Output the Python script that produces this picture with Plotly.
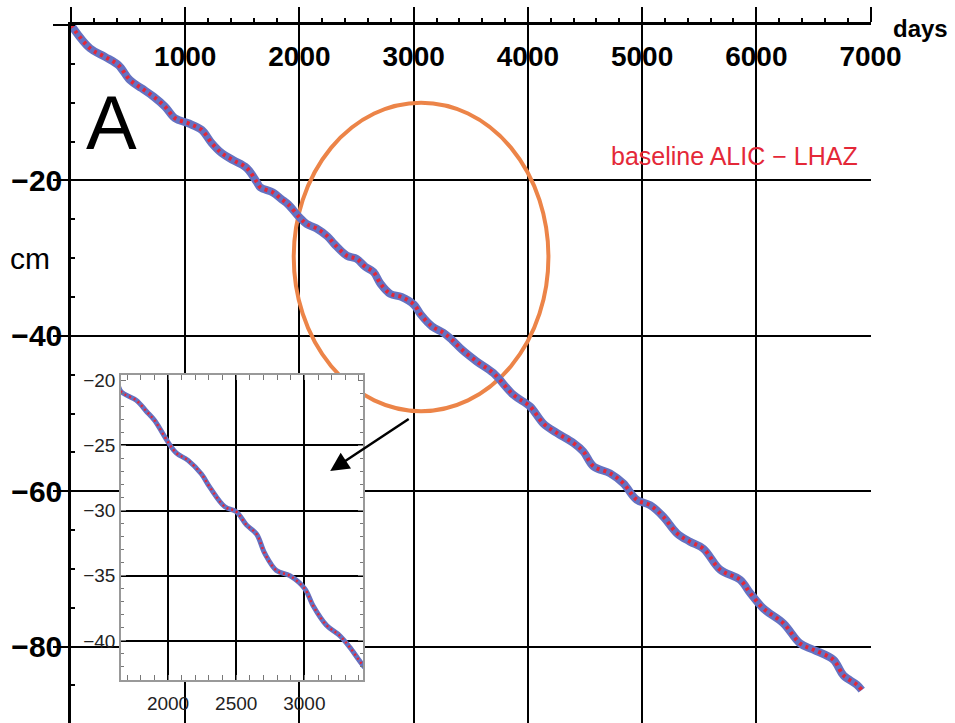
import plotly.graph_objects as go

# Baseline length change ALIC - LHAZ (cm) against time (days)
days = [0, 166, 298, 414, 517, 619, 721, 823, 911, 1027, 1144, 1232, 1320, 1421,
        1538, 1626, 1658, 1768, 1842, 1902, 2000, 2062, 2147, 2245, 2306, 2416,
        2502, 2575, 2649, 2710, 2795, 2893, 3003, 3064, 3162, 3260, 3334, 3424,
        3552, 3698, 3873, 4019, 4136, 4253, 4399, 4486, 4574, 4720, 4836, 4953,
        5070, 5187, 5304, 5420, 5537, 5683, 5858, 5946, 6062, 6237, 6384, 6500,
        6675, 6763, 6880, 6923]
cm = [0.0, -3.0, -4.1, -5.15, -7.1, -8.15, -9.2, -10.5, -12.0, -12.65, -13.5, -15.2,
      -16.5, -17.4, -18.4, -20.2, -20.9, -21.55, -22.4, -23.1, -24.75, -25.6, -26.15,
      -27.2, -28.2, -29.7, -30.1, -31.1, -31.8, -33.3, -34.6, -35.0, -36.0, -37.3,
      -38.8, -39.6, -40.5, -41.8, -43.3, -44.8, -47.6, -49.1, -51.3, -52.5, -53.8,
      -54.9, -56.8, -57.7, -59.0, -61.1, -61.8, -63.3, -65.4, -66.5, -67.4, -70.1,
      -71.4, -73.1, -75.1, -77.0, -79.6, -80.4, -81.7, -83.7, -84.9, -85.6]

x_ticks = [0, 1000, 2000, 3000, 4000, 5000, 6000, 7000]
x_label_vals = [1000, 2000, 3000, 4000, 5000, 6000, 7000]
y_ticks = [0, -20, -40, -60, -80]
y_labels = ["", "\u221220", "\u221240", "\u221260", "\u221280"]

inset_x_ticks = [2000, 2500, 3000]
inset_y_ticks = [-20, -25, -30, -35, -40]
inset_y_labels = ["\u221220", "\u221225", "\u221230", "\u221235", "\u221240"]
inset_grid_y = [-25, -30, -35, -40]

BLUE = "rgb(100,114,194)"
RED = "rgb(228,40,56)"
FONT = "Liberation Sans, Arial, sans-serif"

fig = go.Figure()

# main series: thick blue band with a red dotted line on top
fig.add_trace(go.Scatter(x=days, y=cm, mode="lines", line=dict(color=BLUE, width=8, shape="spline"),
                         xaxis="x", yaxis="y", hoverinfo="skip"))
fig.add_trace(go.Scatter(x=days, y=cm, mode="lines",
                         line=dict(color=RED, width=4, dash="3px,4px", shape="spline"),
                         xaxis="x", yaxis="y", hoverinfo="skip"))

# zoomed inset of the same series
fig.add_trace(go.Scatter(x=days, y=cm, mode="lines", line=dict(color=BLUE, width=5, shape="spline"),
                         xaxis="x2", yaxis="y2", hoverinfo="skip"))
fig.add_trace(go.Scatter(x=days, y=cm, mode="lines",
                         line=dict(color=RED, width=2.5, dash="2px,3px", shape="spline"),
                         xaxis="x2", yaxis="y2", hoverinfo="skip"))

# empty traces that attach the helper axes (top labels, inset grid) to subplots
fig.add_trace(go.Scatter(x=[None], y=[None], xaxis="x3", yaxis="y", hoverinfo="skip", showlegend=False))
fig.add_trace(go.Scatter(x=[None], y=[None], xaxis="x2", yaxis="y3", hoverinfo="skip", showlegend=False))

fig.update_layout(
    width=955, height=723,
    margin=dict(l=71, r=84, t=25, b=0, autoexpand=False),
    paper_bgcolor="white", plot_bgcolor="white",
    showlegend=False,
    xaxis=dict(
        domain=[0, 1], range=[0, 7004], side="top", anchor="y",
        tickvals=x_ticks, showticklabels=False, automargin=False,
        ticks="outside", ticklen=15, tickwidth=2, tickcolor="black",
        showline=True, linecolor="black", linewidth=2.5,
        showgrid=True, gridcolor="black", gridwidth=1.5,
        zeroline=False,
        minor=dict(dtick=200, ticks="outside", ticklen=4, tickwidth=1.5, tickcolor="black", showgrid=False),
    ),
    # labels of the top axis, written just below the axis line
    xaxis3=dict(
        overlaying="x", anchor="free", position=0.933, side="top",
        range=[0, 7004], tickvals=x_label_vals, automargin=False,
        ticks="", showline=False, showgrid=False, zeroline=False,
        tickfont=dict(family=FONT, size=28, color="black", weight="bold"),
    ),
    yaxis=dict(
        domain=[0, 1], range=[-89.83, 0], anchor="x", automargin=False,
        tickvals=y_ticks, ticktext=y_labels,
        ticks="outside", ticklen=15, tickwidth=2, tickcolor="black",
        ticklabelstandoff=-15,
        tickfont=dict(family=FONT, size=30, color="black", weight="bold"),
        showline=True, linecolor="black", linewidth=2.5,
        showgrid=True, gridcolor="black", gridwidth=1.5,
        zeroline=False,
        minor=dict(dtick=5, ticks="inside", ticklen=4, tickwidth=1.5, tickcolor="black", showgrid=False),
    ),
    xaxis2=dict(
        domain=[0.0625, 0.365], range=[1655, 3430], anchor="y2", automargin=False,
        tickvals=inset_x_ticks,
        ticks="inside", ticklen=5, tickwidth=1, tickcolor="#777",
        ticklabelstandoff=5,
        tickfont=dict(family=FONT, size=19, color="#222"),
        showline=True, linecolor="#999", linewidth=1.5, mirror="allticks",
        showgrid=True, gridcolor="black", gridwidth=1.5,
        zeroline=False,
        minor=dict(dtick=100, ticks="inside", ticklen=3, tickwidth=1, tickcolor="#777", showgrid=False),
    ),
    yaxis2=dict(
        domain=[0.0616, 0.4986], range=[-43.0, -19.6], anchor="x2", automargin=False,
        tickvals=inset_y_ticks, ticktext=inset_y_labels,
        ticks="inside", ticklen=5, tickwidth=1, tickcolor="#777",
        tickfont=dict(family=FONT, size=19, color="#222"),
        showline=True, linecolor="#999", linewidth=1.5, mirror="allticks",
        showgrid=False, zeroline=False,
        minor=dict(dtick=1, ticks="inside", ticklen=3, tickwidth=1, tickcolor="#777", showgrid=False),
    ),
    yaxis3=dict(
        domain=[0.0616, 0.4986], range=[-43.0, -19.6], anchor="x2", overlaying="y2",
        tickvals=inset_grid_y, showticklabels=False, ticks="", automargin=False,
        showline=False, showgrid=True, gridcolor="black", gridwidth=1.5, zeroline=False,
    ),
)

# orange ellipse marking the zoomed stretch
fig.add_shape(type="circle", xref="x", yref="y", x0=1950, x1=4180, y0=-49.7, y1=-10.0,
              line=dict(color="rgb(236,132,72)", width=4), layer="between")

fig.add_annotation(xref="paper", yref="paper", x=0.324, y=0.361, ax=80, ay=-53,
                   text="", showarrow=True, arrowhead=2, arrowsize=1.5, arrowwidth=2.5,
                   arrowcolor="black")

fig.add_annotation(xref="paper", yref="paper", x=1.099, y=0.9957, xanchor="right", yanchor="middle",
                   text="days", showarrow=False,
                   font=dict(family=FONT, size=24, color="black", weight="bold"))
fig.add_annotation(xref="paper", yref="paper", x=0.051, y=0.86, xanchor="center", yanchor="middle",
                   text="A", showarrow=False, font=dict(family=FONT, size=76, color="black"))
fig.add_annotation(xref="paper", yref="paper", x=-0.051, y=0.666, xanchor="center", yanchor="middle",
                   text="cm", showarrow=False, font=dict(family=FONT, size=30, color="black"))
fig.add_annotation(xref="paper", yref="paper", x=0.986, y=0.8123, xanchor="right", yanchor="middle",
                   text="baseline ALIC \u2212 LHAZ", showarrow=False,
                   font=dict(family=FONT, size=25, color=RED))

fig.write_html("out.html")
